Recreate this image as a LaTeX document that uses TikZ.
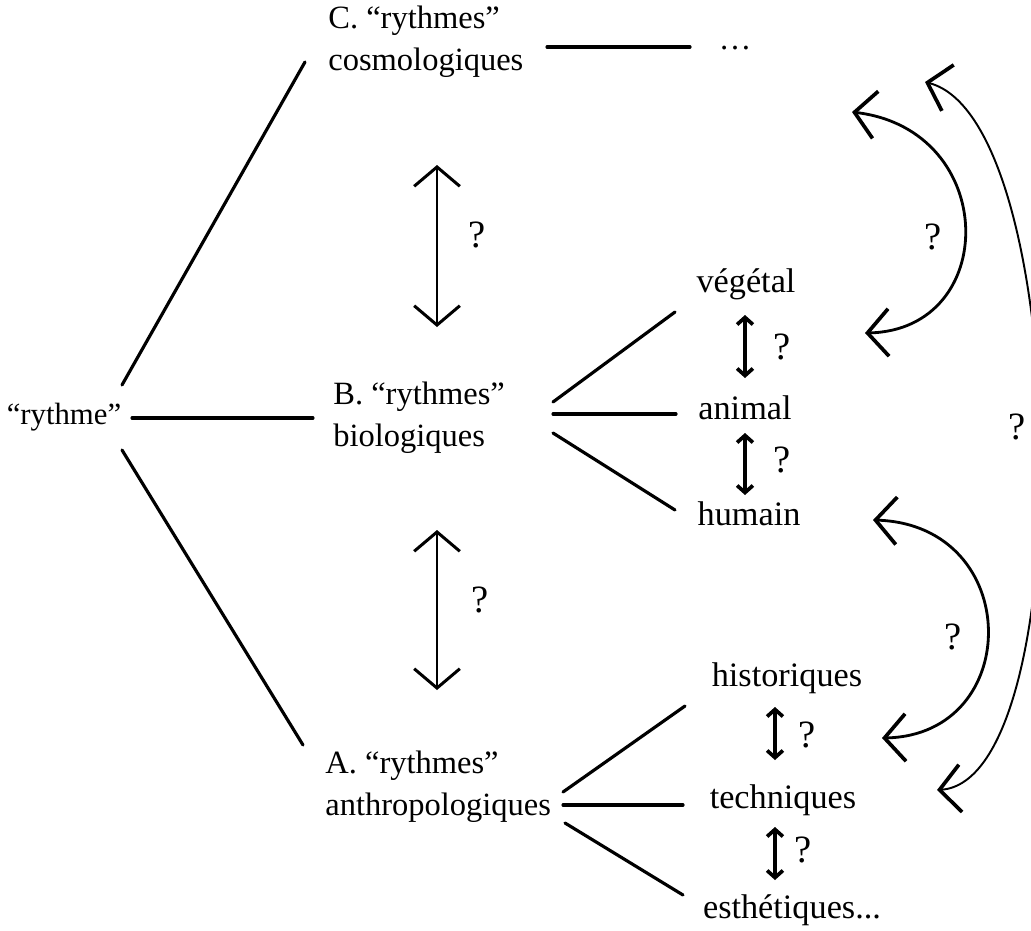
\documentclass[tikz,border=0pt]{standalone}
\usepackage{fontspec}
\setmainfont{Liberation Serif}
\usetikzlibrary{arrows.meta,calc}

\begin{document}
\begin{tikzpicture}[x=0.02cm,y=-0.02cm,
  every node/.style={font=\fontsize{18.5}{24}\selectfont, inner sep=0pt},
  leaf/.style={font=\fontsize{19.5}{24}\selectfont},
  qmark/.style={font=\fontsize{22}{24}\selectfont},
  branch/.style={line width=1.8pt, line cap=round},
  longarrow/.style={line width=1.1pt, {Straight Barb[length=11pt,width=26pt,line width=1.7pt]}-{Straight Barb[length=11pt,width=26pt,line width=1.7pt]}},
  shortarrow/.style={line width=2.1pt, {Straight Barb[length=4pt,width=9pt]}-{Straight Barb[length=4pt,width=9pt]}},
  bendarrow/.style={line width=1.6pt, {Straight Barb[length=12pt,width=27pt,line width=2.1pt]}-{Straight Barb[length=12pt,width=27pt,line width=2.1pt]}}]
\clip (0,0) rectangle (1031,930);

\node[font=\fontsize{17.5}{20}\selectfont] (rythme) at (64,417) {“rythme”};
\node[anchor=west, align=left] (cosmo) at (328,42) {C. “rythmes”\\cosmologiques};
\node[anchor=west, align=left] (bio) at (333,418) {B. “rythmes”\\biologiques};
\node[anchor=west, align=left] (anthro) at (325,787) {A. “rythmes”\\anthropologiques};
\node (dots) at (735,48) {\dots};

\node[leaf] (veg) at (746,284) {végétal};
\node[leaf] (animal) at (745,408) {animal};
\node[leaf] (humain) at (749,514) {humain};
\node[leaf] (hist) at (787,678) {historiques};
\node[leaf] (tech) at (783,800) {techniques};
\node[leaf] (esth) at (792,910) {esthétiques...};

\draw[branch] ($(rythme.center)+(68,1)$) -- ($(bio.west)+(-20,0)$);
\draw[branch] ($(rythme.center)+(58,-32)$) -- ($(cosmo.west)+(-23,20)$);
\draw[branch] ($(rythme.center)+(58,33)$) -- ($(anthro.west)+(-22,-42)$);
\draw[branch] ($(cosmo.west)+(219,5)$) -- ($(dots.center)+(-45,-1)$);

\draw[branch] ($(bio.west)+(220,-16)$) -- ($(veg.center)+(-71,28)$);
\draw[branch] ($(bio.west)+(220,-4)$) -- ($(animal.center)+(-69,6)$);
\draw[branch] ($(bio.west)+(220,15)$) -- ($(humain.center)+(-74,-4)$);
\draw[branch] ($(anthro.west)+(238,5)$) -- ($(hist.center)+(-102,28)$);
\draw[branch] ($(anthro.west)+(238,18)$) -- ($(tech.center)+(-100,5)$);
\draw[branch] ($(anthro.west)+(240,36)$) -- ($(esth.center)+(-109,-15)$);

\draw[longarrow] ($(cosmo.west)+(109,123)$) -- ($(bio.west)+(104,-91)$);
\draw[longarrow] ($(bio.west)+(104,112)$) -- ($(anthro.west)+(112,-97)$);
\node[qmark] (q1) at (477,235) {?};
\node[qmark] (q2) at (480,600) {?};

\draw[shortarrow] ($(veg.center)+(-1,31)$) -- ($(animal.center)+(0,-30)$);
\draw[shortarrow] ($(animal.center)+(0,25)$) -- ($(humain.center)+(-4,-19)$);
\draw[shortarrow] ($(hist.center)+(-12,29)$) -- ($(tech.center)+(-8,-40)$);
\draw[shortarrow] ($(tech.center)+(-8,27)$) -- ($(esth.center)+(-17,-30)$);
\node[qmark] (q3) at (782,347) {?};
\node[qmark] (q4) at (782,460) {?};
\node[qmark] (q5) at (807,735) {?};
\node[qmark] (q6) at (803,850) {?};

% curved links on the right
\coordinate (cosmtip) at (852,112);
\coordinate (vegtip) at (865,333);
\coordinate (humtip) at (873,520);
\coordinate (histtip) at (882,738);
\coordinate (faraway) at (925,82);
\coordinate (techtip) at (937,790);
\draw[bendarrow] (cosmtip) .. controls (1000,130) and (1000,330) .. (vegtip);
\draw[bendarrow] (humtip) .. controls (1024,525) and (1024,735) .. (histtip);
\draw[bendarrow, line width=1.1pt] (faraway) .. controls (1072,120) and (1080,780) .. (techtip);
\node[qmark] (q7) at (933,237) {?};
\node[qmark] (q8) at (953,637) {?};
\node[qmark] (q9) at (1017,427) {?};
\end{tikzpicture}
\end{document}
